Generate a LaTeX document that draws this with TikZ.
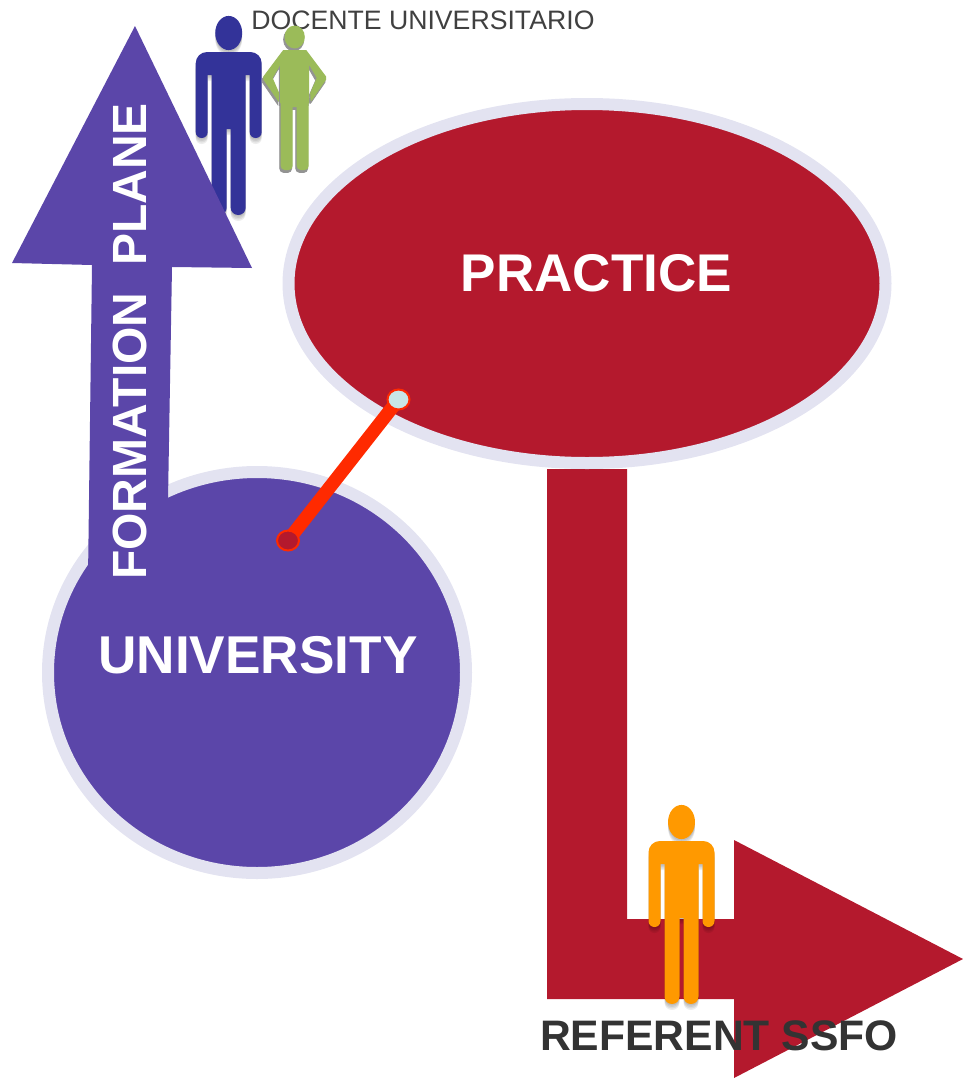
\documentclass[tikz,border=0pt]{standalone}
\usepackage{fontspec}
\setmainfont{Liberation Sans}
\usetikzlibrary{shapes.geometric}
\definecolor{uni}{HTML}{5B46A9}
\definecolor{prac}{HTML}{B4192D}
\definecolor{ringc}{HTML}{E3E3F1}
\definecolor{blueman}{HTML}{333399}
\definecolor{greenman}{HTML}{9BBB59}
\definecolor{orangeman}{HTML}{FF9900}
\definecolor{linkc}{HTML}{FF2A00}
\definecolor{capc}{HTML}{C8E6E6}
\pgfdeclarelayer{front}
\pgfsetlayers{main,front}
\tikzset{
  bigblob/.style={ellipse,inner sep=0pt,outer sep=0pt,draw=ringc,line width=9pt},
  linkcap/.style={ellipse,inner sep=0pt,outer sep=0pt,minimum width=16.5pt,minimum height=15pt,draw=linkc,line width=1.5pt},
  biglabel/.style={inner sep=0pt,text=white},
  linkline/.style={draw=linkc,line width=10pt}
}
\newcommand{\manbody}{
  (0,17) ellipse [x radius=10.1pt,y radius=12.8pt]
  (0,36) [rounded corners=8.5pt] -- (-33,36) [rounded corners=4.4pt] -- (-33,122) -- (-21,122) [sharp corners] -- (-21,59) -- (-17,59)
  [rounded corners=5.5pt] -- (-17,199) -- (-2,199) [sharp corners] -- (-2,113) -- (2,113)
  [rounded corners=5.5pt] -- (2,199) -- (17,199) [sharp corners] -- (17,59) -- (21,59)
  [rounded corners=4.4pt] -- (21,122) -- (33,122) [rounded corners=8.5pt] -- (33,36) [sharp corners] -- cycle
}
\newcommand{\manfig}[3]{
  \begin{scope}[shift={(#1,#2)}]
    \foreach \dd in {1.5,3,4.5,6}{
      \begin{scope}[shift={(0,\dd)}]
        \fill[black,opacity=0.07] \manbody;
      \end{scope}
    }
    \fill[#3] \manbody;
  \end{scope}
}
\newcommand{\greenbody}{
  (0,0) ellipse [x radius=7.6pt,y radius=8.6pt]
  (-11.5,13) -- (11.5,13) [rounded corners=1.5pt] -- (32.5,41) -- (16,65) [sharp corners] -- (15.5,56) -- (22,41) -- (14.5,28)
  -- (14.5,66) -- (14,66) [rounded corners=3pt] -- (14,133) -- (2,133) [sharp corners] -- (2,70) -- (-2,70)
  [rounded corners=3pt] -- (-2,133) -- (-14,133) [sharp corners] -- (-14,66) -- (-14.5,66) -- (-14.5,28) -- (-22,41) -- (-15.5,56) -- (-16,65)
  [rounded corners=1.5pt] -- (-32.5,41) [sharp corners] -- cycle
}
\begin{document}
\begin{tikzpicture}[x=0.75pt,y=-0.75pt]
\useasboundingbox (0,0) rectangle (963,1078);
% red L-shaped arrow
\fill[prac] (547,469) -- (627,469) -- (627,919) -- (734,919) -- (734,840) -- (963,959) -- (734,1078) -- (734,999) -- (547,999) -- cycle;
% ellipses
\node[bigblob,fill=prac,minimum width=597*0.75pt,minimum height=359*0.75pt] (practice) at (587,283.5) {};
\node[bigblob,fill=uni,minimum width=418*0.75pt,minimum height=401*0.75pt] (university) at (257,672.5) {};
% blue man below the purple arrow
\manfig{228.7}{16}{blueman}
% purple arrow
\fill[uni] (135,26) -- (252,268) -- (172,267) -- (168,500) -- (165,578) -- (88,578) -- (92,265) -- (12,263) -- cycle;
% top text and green figure
\node[inner sep=0pt,anchor=west,font=\fontsize{20pt}{24pt}\selectfont,text=black!75] (docente) at (251,20) {DOCENTE UNIVERSITARIO};
\begin{scope}[shift={(294.7,37)}]
  \begin{scope}[shift={(-1,2.5)}]
    \fill[gray!85,draw=gray!85,line width=.6pt] \greenbody;
  \end{scope}
  \fill[greenman] \greenbody;
\end{scope}
% labels
\node[biglabel,font=\bfseries\fontsize{39.8pt}{47pt}\selectfont] (practicetext) at (596.5,273) {PRACTICE};
\node[biglabel,font=\bfseries\fontsize{39.9pt}{47pt}\selectfont] (universitytext) at (258,655) {UNIVERSITY};
\node[biglabel,rotate=90,font=\bfseries\fontsize{36pt}{43pt}\selectfont] (planetext) at (130,341.5) {FORMATION\ \ PLANE};
% connector
\begin{pgfonlayer}{front}
\node[linkcap,fill=capc] (captop) at (398.5,399.5) {};
\node[linkcap,fill=prac] (capbottom) at (288,540.5) {};
\end{pgfonlayer}
\draw[linkline] (captop.center) -- (capbottom.center);
% orange man
\manfig{681.5}{805}{orangeman}
\node[inner sep=0pt,font=\bfseries\fontsize{32pt}{40pt}\selectfont,text=black!80] (referent) at (719,1036) {REFERENT SSFO};
\end{tikzpicture}
\end{document}
